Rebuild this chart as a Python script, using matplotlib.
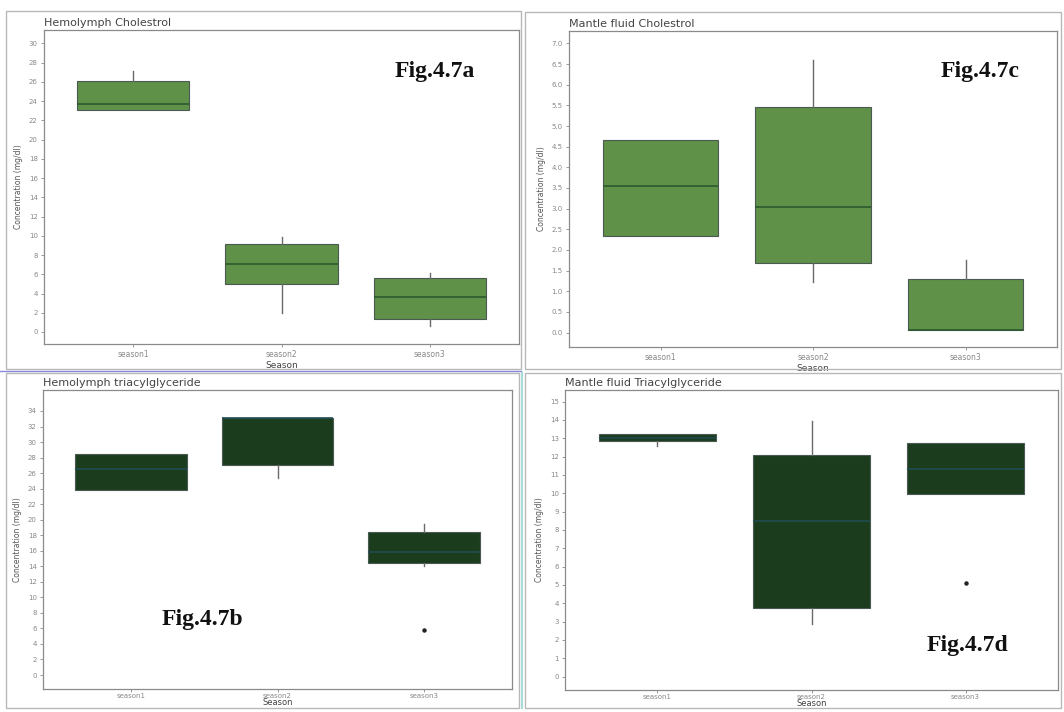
import matplotlib
matplotlib.use("Agg")
import matplotlib.pyplot as plt
from matplotlib.patches import Rectangle
from matplotlib.lines import Line2D

# ---- data ----
seasons = ["season1", "season2", "season3"]

# Hemolymph cholesterol (mg/dl)
hc_q1 = [23.05, 5.0, 1.3]
hc_med = [23.7, 7.06, 3.67]
hc_q3 = [26.1, 9.1, 5.64]
hc_lo = [23.05, 2.0, 0.62]
hc_hi = [27.1, 9.9, 6.16]
hc_out = [[], [], []]

# Hemolymph triacylglyceride (mg/dl)
ht_q1 = [23.8, 27.1, 14.4]
ht_med = [26.5, 33.1, 15.8]
ht_q3 = [28.5, 33.1, 18.4]
ht_lo = [23.8, 25.4, 14.0]
ht_hi = [28.5, 33.1, 19.4]
ht_out = [[], [], [5.8]]

# Mantle fluid cholesterol (mg/dl)
mc_q1 = [2.34, 1.69, 0.06]
mc_med = [3.54, 3.03, 0.07]
mc_q3 = [4.67, 5.46, 1.30]
mc_lo = [2.34, 1.23, 0.06]
mc_hi = [4.67, 6.61, 1.75]
mc_out = [[], [], []]

# Mantle fluid triacylglyceride (mg/dl)
mt_q1 = [12.83, 3.74, 9.94]
mt_med = [13.0, 8.5, 11.33]
mt_q3 = [13.25, 12.07, 12.74]
mt_lo = [12.6, 2.89, 9.94]
mt_hi = [13.25, 13.95, 12.74]
mt_out = [[], [], [5.1]]

hc_ticks = list(range(0, 31, 2))
ht_ticks = list(range(0, 35, 2))
mc_ticks = [i * 0.5 for i in range(15)]
mt_ticks = list(range(0, 16))

W, H = 1064, 712
fig = plt.figure(figsize=(W / 100, H / 100), dpi=100)
fig.patch.set_facecolor("white")


def px_axes(x0, y0, x1, y1):
    return fig.add_axes([x0 / W, 1 - y1 / H, (x1 - x0) / W, (y1 - y0) / H])


def frame(x0, y0, x1, y1, color):
    fig.add_artist(Rectangle((x0 / W, 1 - y1 / H), (x1 - x0) / W, (y1 - y0) / H,
                             transform=fig.transFigure, fill=False,
                             edgecolor=color, linewidth=1.0))


def stats(q1, med, q3, lo, hi, out):
    return [dict(q1=a, med=b, q3=c, whislo=d, whishi=e, fliers=f)
            for a, b, c, d, e, f in zip(q1, med, q3, lo, hi, out)]


def panel(ax, st, ticks, ylim, fmt, title, face, medcol, figlabel, lx, ly,
          compact=False):
    ax.bxp(st, positions=[0, 1, 2], widths=0.76, patch_artist=True,
           showcaps=False,
           boxprops=dict(facecolor=face, edgecolor="#4a5a52", linewidth=0.8),
           medianprops=dict(color=medcol, linewidth=1.2),
           whiskerprops=dict(color="#6a6a6a", linewidth=1.0),
           flierprops=dict(marker="o", markersize=2.2, markerfacecolor="#222222",
                           markeredgecolor="#222222"))
    ax.set_xlim(-0.6, 2.6)
    ax.set_ylim(*ylim)
    ax.set_yticks(ticks)
    ax.set_yticklabels([fmt.format(t) for t in ticks])
    ax.set_xticks([0, 1, 2])
    ax.set_xticklabels(seasons)
    ax.tick_params(axis="y", labelsize=5, colors="#888888", length=2.5,
                   width=0.6, pad=2)
    ax.tick_params(axis="x", labelsize=5.5 if not compact else 5,
                   colors="#888888", length=2 if compact else 2.5,
                   width=0.6, pad=1 if compact else 2)
    for s in ax.spines.values():
        s.set_color("#8a8a8a")
        s.set_linewidth(0.9)
    ax.set_ylabel("Concentration (mg/dl)", fontsize=5.5, color="#555555", labelpad=4)
    ax.set_xlabel("Season", fontsize=6 if compact else 6.5, color="#444444",
                  labelpad=-0.5 if compact else 1)
    ax.set_title(title, loc="left", fontsize=8, color="#444444", pad=3)
    fig.text(lx / W, 1 - ly / H, figlabel, fontsize=17, fontweight="bold",
             family="Liberation Serif", ha="center", va="center", color="#111111")


# panel frames
frame(6, 11, 521, 369, "#b8b8b8")
frame(525, 12, 1061, 369, "#b8b8b8")
frame(6, 373, 519, 708, "#b8b8b8")
frame(525, 373, 1061, 708, "#b8b8b8")
fig.add_artist(Line2D([0, 521 / W], [1 - 371 / H, 1 - 371 / H], transform=fig.transFigure,
                      color="#8a8ad8", linewidth=1.0))
fig.add_artist(Line2D([522 / W, 522 / W], [1 - 708 / H, 1 - 373 / H], transform=fig.transFigure,
                      color="#a8dcdc", linewidth=1.5))

light = "#5f9149"
dark = "#1b3d1e"

ax_a = px_axes(44, 30, 519, 344)
panel(ax_a, stats(hc_q1, hc_med, hc_q3, hc_lo, hc_hi, hc_out), hc_ticks,
      (-1.25, 31.4), "{:d}", "Hemolymph Cholestrol", light, "#2b5a2e",
      "Fig.4.7a", 435, 71)

ax_c = px_axes(569, 31, 1057, 347)
panel(ax_c, stats(mc_q1, mc_med, mc_q3, mc_lo, mc_hi, mc_out), mc_ticks,
      (-0.35, 7.3), "{:.1f}", "Mantle fluid Cholestrol", light, "#2b5a2e",
      "Fig.4.7c", 980, 71)

ax_b = px_axes(43, 390, 512, 689)
panel(ax_b, stats(ht_q1, ht_med, ht_q3, ht_lo, ht_hi, ht_out), ht_ticks,
      (-1.8, 36.7), "{:d}", "Hemolymph triacylglyceride", dark, "#1f4c50",
      "Fig.4.7b", 202, 620, compact=True)

ax_d = px_axes(565, 390, 1058, 690)
panel(ax_d, stats(mt_q1, mt_med, mt_q3, mt_lo, mt_hi, mt_out), mt_ticks,
      (-0.73, 15.63), "{:d}", "Mantle fluid Triacylglyceride", dark, "#1f4c50",
      "Fig.4.7d", 967, 646, compact=True)

fig.savefig("out.png", dpi=100, facecolor="white")
